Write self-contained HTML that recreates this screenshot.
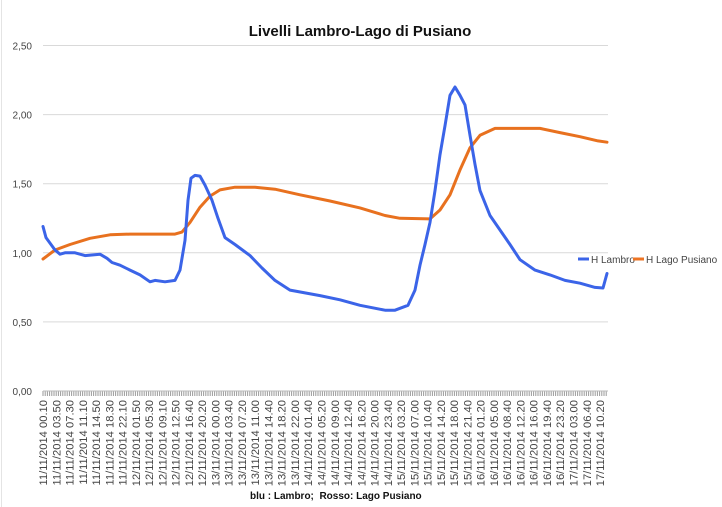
<!DOCTYPE html>
<html><head><meta charset="utf-8"><style>
body{margin:0;background:#fff;}
svg{display:block;font-family:"Liberation Sans",sans-serif;}
</style></head><body>
<svg width="722" height="507" viewBox="0 0 722 507">
<rect x="0" y="0" width="722" height="507" fill="#fff"/>
<line x1="1.5" y1="0" x2="1.5" y2="507" stroke="#e4e4e4"/>
<text x="360" y="36" text-anchor="middle" font-size="15" font-weight="bold" fill="#111">Livelli Lambro-Lago di Pusiano</text>
<g id="grid"></g><g id="yticks"></g><g id="xticks"></g><g id="xlabels"></g><g id="series"></g>
<g>
<line x1="578" y1="259" x2="589" y2="259" stroke="#3b64e8" stroke-width="3"/>
<text x="591" y="263" font-size="10" fill="#444">H Lambro</text>
<line x1="633" y1="259" x2="644" y2="259" stroke="#ed7424" stroke-width="3"/>
<text x="646" y="263" font-size="10" fill="#444">H Lago Pusiano</text>
</g>
<text x="250" y="499" font-size="10" font-weight="bold" fill="#111">blu : Lambro;&#160; Rosso: Lago Pusiano</text>
</svg>
<script>
const yTicks=[0,0.5,1.0,1.5,2.0,2.5];
const yTickLabels=["0,00","0,50","1,00","1,50","2,00","2,50"];
const xLabels=["11/11/2014 00.10","11/11/2014 03.50","11/11/2014 07.30","11/11/2014 11.10","11/11/2014 14.50","11/11/2014 18.30","11/11/2014 22.10","12/11/2014 01.50","12/11/2014 05.30","12/11/2014 09.10","12/11/2014 12.50","12/11/2014 16.40","12/11/2014 20.20","13/11/2014 00.00","13/11/2014 03.40","13/11/2014 07.20","13/11/2014 11.00","13/11/2014 14.40","13/11/2014 18.20","13/11/2014 22.00","14/11/2014 01.40","14/11/2014 05.20","14/11/2014 09.00","14/11/2014 12.40","14/11/2014 16.20","14/11/2014 20.00","14/11/2014 23.40","15/11/2014 03.20","15/11/2014 07.00","15/11/2014 10.40","15/11/2014 14.20","15/11/2014 18.00","15/11/2014 21.40","16/11/2014 01.20","16/11/2014 05.00","16/11/2014 08.40","16/11/2014 12.20","16/11/2014 16.00","16/11/2014 19.40","16/11/2014 23.20","17/11/2014 03.00","17/11/2014 06.40","17/11/2014 10.20"];
const lambroHours=[0,0.83,1.94,3.32,4.70,6.08,8.85,11.61,15.76,17.69,19.08,21.29,24.05,26.82,29.58,30.96,33.72,36.49,37.87,39.26,40.09,40.92,42.02,43.41,44.79,46.72,48.38,50.32,53.08,57.23,60.55,64.14,68.29,72.44,76.58,82.11,87.64,94.55,97.32,100.91,102.85,104.23,105.61,107.0,108.38,109.76,111.14,112.52,113.91,115.29,116.67,118.05,119.44,120.82,123.58,126.35,129.11,131.88,136.02,140.17,144.32,148.47,152.61,154.83,155.93];
const lambroValues=[1.19,1.11,1.07,1.02,0.99,1.00,1.00,0.98,0.99,0.96,0.93,0.91,0.875,0.84,0.79,0.80,0.79,0.80,0.875,1.09,1.38,1.54,1.56,1.555,1.49,1.38,1.25,1.11,1.06,0.98,0.89,0.80,0.73,0.71,0.69,0.66,0.62,0.585,0.585,0.62,0.73,0.91,1.06,1.22,1.45,1.71,1.92,2.14,2.20,2.14,2.07,1.85,1.64,1.45,1.27,1.165,1.06,0.95,0.875,0.84,0.80,0.78,0.75,0.745,0.85];
const pusianoHours=[0,3.32,7.46,12.99,18.52,24.05,36.49,38.43,40.64,43.41,46.17,48.94,53.08,58.61,64.14,71.05,79.35,87.64,94.55,98.70,107.0,109.76,112.52,115.29,118.05,120.82,124.97,130.49,137.41,142.94,148.47,153.44,155.93];
const pusianoValues=[0.955,1.02,1.06,1.105,1.13,1.135,1.135,1.15,1.22,1.33,1.41,1.455,1.475,1.475,1.46,1.42,1.375,1.325,1.27,1.25,1.245,1.31,1.42,1.60,1.76,1.85,1.90,1.90,1.90,1.87,1.84,1.81,1.80];
const labelStepHours=220/60;
const X0=43,PXH=3.617,Y0=391,PXV=138.2,RIGHT=608;
const xs=h=>X0+h*PXH, ys=v=>Y0-v*PXV;
const NS="http://www.w3.org/2000/svg";
function mk(t,p,a){const e=document.createElementNS(NS,t);for(const k in a)e.setAttribute(k,a[k]);p.appendChild(e);return e;}
const grid=document.getElementById('grid'),yt=document.getElementById('yticks');
yTicks.forEach((v,i)=>{
 if(v>0){const l=mk('line',grid,{x1:X0,x2:RIGHT,y1:ys(v),y2:ys(v),stroke:'#d9d9d9','stroke-width':1});
 
 }
 const t=mk('text',yt,{x:32,y:ys(v)+4,'text-anchor':'end','font-size':10,fill:'#444'});
 t.textContent=yTickLabels[i];
 
 
});
const xt=document.getElementById('xticks');
for(let x=X0;x<=RIGHT;x+=2.2){const l=mk('line',xt,{x1:x.toFixed(1),x2:x.toFixed(1),y1:Y0,y2:Y0+5,stroke:'#9a9a9a','stroke-width':1});
 
 }
const axl=mk('line',xt,{x1:X0,x2:RIGHT,y1:Y0,y2:Y0,stroke:'#bbb'});


const xl=document.getElementById('xlabels');
xLabels.forEach((s,i)=>{const x=xs(i*labelStepHours)+4;const t=mk('text',xl,{x:0,y:0,'text-anchor':'end','font-size':11.2,fill:'#444',transform:`translate(${x.toFixed(1)},400) rotate(-90)`});
 t.textContent=s;
 
 });
const sg=document.getElementById('series');
function line(h,v,c,name){const d=h.map((t,i)=>(i?'L':'M')+xs(t).toFixed(1)+','+ys(v[i]).toFixed(1)).join('');
 const p=mk('path',sg,{d:d,fill:'none',stroke:c,'stroke-width':3,'stroke-linejoin':'round','stroke-linecap':'round'});
 
 }
line(pusianoHours,pusianoValues,'#e8711f','series-lago-pusiano');
line(lambroHours,lambroValues,'#3b64e8','series-lambro');
</script>
</body></html>
